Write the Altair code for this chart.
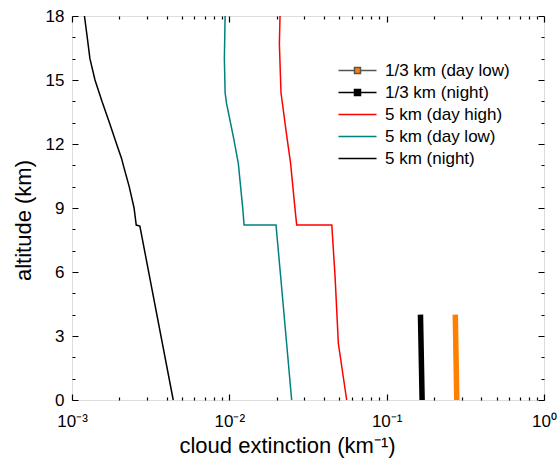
import altair as alt
import pandas as pd

# ---------------- data ----------------
series_names = ["1/3 km (day low)", "1/3 km (night)", "5 km (day high)",
                "5 km (day low)", "5 km (night)"]

dl13_alt = [0, 1, 2, 3, 4]
dl13_ext = [0.279, 0.2775, 0.276, 0.2745, 0.273]
n13_alt = [0, 1, 2, 3, 4]
n13_ext = [0.168, 0.167, 0.166, 0.165, 0.164]
dh5_alt = [18, 16.7, 14.4, 12.35, 11.1, 8.9, 8.2, 8.2, 5.78, 2.66, 0]
dh5_ext = [0.0210, 0.0208, 0.0213, 0.0232, 0.0245, 0.0262, 0.0268, 0.0448,
           0.0470, 0.0493, 0.0557]
dl5_alt = [18, 16, 14.4, 13.9, 12.35, 11.1, 8.9, 8.2, 8.2, 5.78, 0]
dl5_ext = [0.0094, 0.0093, 0.0094, 0.0096, 0.0106, 0.0114, 0.0122, 0.0124,
           0.0198, 0.0212, 0.0249]
n5_alt = [18, 17, 16, 15, 14, 13, 12, 11.3, 11, 10, 9, 8.2, 8.15, 0]
n5_ext = [0.00120, 0.00125, 0.00130, 0.00140, 0.00155, 0.00173, 0.00192,
          0.00207, 0.00212, 0.00231, 0.00248, 0.00256, 0.00270, 0.00440]

line_colors = ["#FF7F00", "#000000", "#FF0000", "#008080", "#000000"]
legend_strokes = ["#555555", "#000000", "#FF0000", "#008080", "#000000"]
legend_fills = ["#FF7F00", "#000000", "transparent", "transparent", "transparent"]

x_major = [0.001, 0.01, 0.1, 1.0]
x_minor = [m * 10.0 ** e for e in (-3, -2, -1) for m in range(2, 10)]
y_major = [0, 3, 6, 9, 12, 15, 18]
y_minor = [v for v in range(0, 19) if v % 3]
x_tick_labels = ["10⁻³", "10⁻²", "10⁻¹", "10⁰"]


def table(name, ext, alt_):
    return pd.DataFrame({"series": name, "ext": ext, "alt": alt_,
                         "idx": range(len(ext))})


W, H = 472, 384
FONT = "Liberation Sans"
x_scale = alt.Scale(type="log", domain=[0.001, 1])
y_scale = alt.Scale(domain=[0, 18])

label_arr = "[" + ",".join("'%s'" % s for s in x_tick_labels) + "]"
common = dict(ticks=False, tickSize=0, domain=False, gridColor="black",
              gridWidth=1.2, gridOpacity=1, grid=True,
              labelFlush=False, labelOverlap=False)

x_axis_major = alt.Axis(
    orient="bottom", values=x_major,
    labelExpr=f"{label_arr}[round(log(datum.value)/LN10)+3]",
    title="cloud extinction (km⁻¹)", titleX=215,
    labelPadding=13, labelFontSize=17, labelFont=FONT, labelColor="black",
    titleFontSize=22, titleFont=FONT, titleFontWeight="normal", titleColor="black",
    titlePadding=6, gridDash=[6, H - 12, 6, 2000], **common)
x_axis_minor = alt.Axis(orient="top", values=x_minor, labels=False, title=None,
                        gridDash=[3, H - 6, 3, 2000], **common)
y_axis_major = alt.Axis(
    orient="left", values=y_major, title="altitude (km)", titleY=204,
    labelPadding=8, labelFontSize=17, labelFont=FONT, labelColor="black",
    titleFontSize=22, titleFont=FONT, titleFontWeight="normal", titleColor="black",
    titlePadding=10, gridDash=[6, W - 12, 6, 2000], **common)
y_axis_minor = alt.Axis(orient="right", values=y_minor, labels=False, title=None,
                        gridDash=[3, W - 6, 3, 2000], **common)


def series_layer(i, ext, alt_, width, xa=None, ya=None, cap="butt"):
    return alt.Chart(table(series_names[i], ext, alt_)).mark_line(
        strokeWidth=width, strokeCap=cap, color=line_colors[i]).encode(
        x=alt.X("ext:Q", scale=x_scale, axis=xa),
        y=alt.Y("alt:Q", scale=y_scale, axis=ya),
        order=alt.Order("idx:Q"))


l_n5 = series_layer(4, n5_ext, n5_alt, 1.5, x_axis_major, y_axis_major)
l_n13 = series_layer(1, n13_ext, n13_alt, 5.5, x_axis_minor, y_axis_minor)
l_dh5 = series_layer(2, dh5_ext, dh5_alt, 1.5)
l_dl5 = series_layer(3, dl5_ext, dl5_alt, 1.5)
l_dl13 = series_layer(0, dl13_ext, dl13_alt, 5.5)

# legend (symbols: custom paths; line + square for the 1/3 km entries)
sq = 0.5
L = 3.17
path_sq = f"M-{L},0H-{sq}M{sq},0H{L}M-{sq},-{sq}H{sq}V{sq}H-{sq}Z"
path_line = f"M-{L},0H{L}"
legend_paths = [path_sq, path_sq, path_line, path_line, path_line]

legend_df = pd.DataFrame({"series": series_names,
                          "ext": [dl13_ext[0], n13_ext[0], dh5_ext[-1], dl5_ext[-1], n5_ext[-1]],
                          "alt": [0, 0, 0, 0, 0]})

leg = alt.Legend(title=None, orient="none", legendX=277, legendY=46,
                 symbolSize=144, symbolStrokeWidth=1.5, symbolOpacity=1,
                 labelOffset=19, labelFontSize=17, labelFont=FONT, labelColor="black",
                 rowPadding=4, padding=0)

legend_layer = alt.Chart(legend_df).mark_point(opacity=0).encode(
    x=alt.X("ext:Q", scale=x_scale, axis=None),
    y=alt.Y("alt:Q", scale=y_scale, axis=None),
    fill=alt.Fill("series:N", scale=alt.Scale(domain=series_names, range=legend_fills), legend=leg),
    stroke=alt.Stroke("series:N", scale=alt.Scale(domain=series_names, range=legend_strokes), legend=leg),
    shape=alt.Shape("series:N", scale=alt.Scale(domain=series_names, range=legend_paths), legend=leg),
)

chart = alt.layer(l_n5, l_n13, l_dh5, l_dl5, l_dl13, legend_layer).resolve_axis(
    x="independent", y="independent"
).properties(
    width=W, height=H,
    autosize=alt.AutoSizeParams(type="none"),
    padding={"left": 72, "top": 16, "right": 13, "bottom": 69},
).configure_view(stroke="black", strokeWidth=1.3).configure(background="white")

chart.save("out.html", embed_options={"renderer": "svg", "actions": False})
